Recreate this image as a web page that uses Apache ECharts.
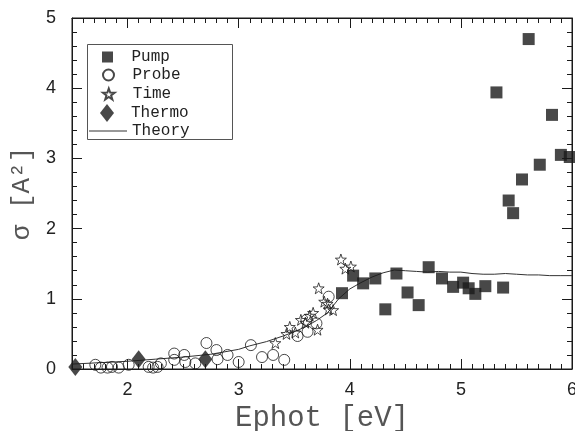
<!DOCTYPE html>
<html>
<head>
<meta charset="utf-8">
<script src="https://cdn.jsdelivr.net/npm/echarts@6/dist/echarts.min.js"></script>
<style>
  html, body { margin: 0; padding: 0; background: #fff; }
  #chart { width: 575px; height: 431px; }
</style>
</head>
<body>
<div id="chart"></div>
<script>
// data: [Ephot eV, sigma A^2]
const pump = [
  [3.93, 1.08], [4.03, 1.33], [4.12, 1.22], [4.23, 1.29], [4.32, 0.85],
  [4.42, 1.36], [4.52, 1.09], [4.62, 0.91], [4.71, 1.45], [4.83, 1.29],
  [4.93, 1.17], [5.02, 1.23], [5.07, 1.15], [5.13, 1.07], [5.22, 1.18],
  [5.32, 3.94], [5.38, 1.16], [5.43, 2.40], [5.47, 2.22], [5.55, 2.70],
  [5.61, 4.70], [5.71, 2.91], [5.82, 3.62], [5.90, 3.05], [5.98, 3.02]
];
const probe = [
  [1.71, 0.06], [1.76, 0.02], [1.82, 0.02], [1.86, 0.03], [1.92, 0.02],
  [2.01, 0.06], [2.19, 0.03], [2.23, 0.02], [2.27, 0.03], [2.30, 0.08],
  [2.42, 0.22], [2.42, 0.13], [2.51, 0.20], [2.52, 0.10], [2.61, 0.08],
  [2.71, 0.37], [2.80, 0.27], [2.81, 0.14], [2.90, 0.20], [3.00, 0.10],
  [3.11, 0.34], [3.21, 0.17], [3.31, 0.20], [3.41, 0.13], [3.53, 0.47],
  [3.62, 0.53], [3.61, 0.70], [3.70, 0.65], [3.81, 1.03]
];
const timeRes = [
  [3.33, 0.37], [3.43, 0.50], [3.46, 0.60], [3.51, 0.52], [3.56, 0.70],
  [3.60, 0.66], [3.64, 0.76], [3.67, 0.80], [3.71, 0.56], [3.72, 1.15],
  [3.77, 0.96], [3.80, 0.93], [3.81, 0.85], [3.85, 0.84], [3.92, 1.56],
  [3.96, 1.43], [4.01, 1.46]
];
const thermo = [[1.53, 0.03], [2.10, 0.14], [2.70, 0.14]];
const theory = [
  [1.5, 0.07], [1.75, 0.09], [2.0, 0.11], [2.25, 0.14], [2.5, 0.17],
  [2.75, 0.21], [3.0, 0.28], [3.1, 0.33], [3.25, 0.39], [3.4, 0.47],
  [3.5, 0.53], [3.6, 0.60], [3.7, 0.69], [3.8, 0.80], [3.9, 1.00],
  [4.0, 1.14], [4.1, 1.23], [4.2, 1.31], [4.3, 1.37], [4.4, 1.41],
  [4.5, 1.40], [4.6, 1.39], [4.7, 1.38], [4.8, 1.39], [4.9, 1.38],
  [5.0, 1.38], [5.1, 1.36], [5.2, 1.35], [5.3, 1.35], [5.4, 1.36],
  [5.5, 1.35], [5.6, 1.34], [5.7, 1.34], [5.8, 1.33], [5.9, 1.33], [6.0, 1.33]
];
const xMajor = [2, 3, 4, 5, 6];
const legendNames = ['Pump', 'Probe', 'Time', 'Thermo', 'Theory'];

const starPath = 'path://M0,-10L2.35,-3.24L9.51,-3.09L3.8,1.24L5.88,8.09L0,4L-5.88,8.09L-3.8,1.24L-9.51,-3.09L-2.35,-3.24Z';
const squarePath = 'path://M0,0L10,0L10,10L0,10Z';
const diamondPath = 'path://M7,0L14,9L7,18L0,9Z';
const barPath = 'path://M0,0L36,0L36,1L0,1Z';
const ink = '#1a1a1a';
const mono = 'Liberation Mono';

const chart = echarts.init(document.getElementById('chart'));

// x needs minor ticks every 0.1 from 1.5 and majors on the integers: two axes per side
function xAxisPair(position, withLabels) {
    const minor = {
        type: 'value', position: position, min: 1.5, max: 6, interval: 0.1,
        axisLine: { show: true, onZero: false, lineStyle: { color: ink, width: 1 } },
        axisTick: { show: true, inside: true, length: 5, lineStyle: { color: ink } },
        axisLabel: { show: false },
        splitLine: { show: false }
    };
    const major = {
        type: 'value', position: position, min: 1.5, max: 6, interval: 0.5,
        axisLine: { show: false, onZero: false },
        axisTick: { show: true, inside: true, length: 10, customValues: xMajor, lineStyle: { color: ink } },
        axisLabel: withLabels ? {
            show: true, customValues: xMajor, margin: 12,
            fontFamily: 'Liberation Sans', fontSize: 18, color: '#222'
        } : { show: false },
        splitLine: { show: false }
    };
    if (withLabels) {
        major.name = 'Ephot [eV]';
        major.nameLocation = 'middle';
        major.nameGap = 30;
        major.nameTextStyle = { fontFamily: mono, fontSize: 29, color: '#555' };
    }
    return [minor, major];
}

function yAxisOne(position, withLabels) {
    const ax = {
        type: 'value', position: position, min: 0, max: 5, interval: 1,
        axisLine: { show: true, onZero: false, lineStyle: { color: ink, width: 1 } },
        axisTick: { show: true, inside: true, length: 10, lineStyle: { color: ink } },
        minorTick: { show: true, splitNumber: 5, length: 5, lineStyle: { color: ink } },
        axisLabel: withLabels ? {
            show: true, margin: 16,
            fontFamily: 'Liberation Sans', fontSize: 18, color: '#222'
        } : { show: false },
        splitLine: { show: false }
    };
    if (withLabels) {
        ax.name = 'σ [A²]';
        ax.nameLocation = 'middle';
        ax.nameGap = 34;
        ax.nameRotate = 90;
        ax.nameTextStyle = { fontFamily: mono, fontSize: 26, color: '#555' };
    }
    return ax;
}

// one legend per row so each icon can have its own size
const legendRows = [
    { icon: squarePath, h: 11, cy: 57, left: 102 },
    { icon: 'circle', h: 11, cy: 75, left: 102 },
    { icon: starPath, h: 11, cy: 94, left: 102 },
    { icon: diamondPath, h: 18, cy: 113, left: 100 },
    { icon: barPath, h: 12, cy: 131, left: 89 }
];
const legends = legendRows.map(function (row, i) {
    const boxH = Math.max(row.h, 16);
    return {
        orient: 'vertical',
        left: row.left,
        top: row.cy - boxH / 2,
        padding: 0,
        itemWidth: 38,
        itemHeight: row.h,
        selectedMode: false,
        textStyle: { fontFamily: mono, fontSize: 16, color: '#222' },
        data: [{ name: legendNames[i], icon: row.icon }]
    };
});

const option = {
    backgroundColor: '#fff',
    animation: false,
    // the test charts that drew their axis lines all had a title component
    title: { text: '', left: 'center', top: 0 },
    grid: {
        left: 72, right: 3, top: 18, bottom: 62, outerBoundsMode: 'none',
        // grid border as a fallback frame
        show: true, borderColor: ink, borderWidth: 1, backgroundColor: 'transparent'
    },
    xAxis: [].concat(xAxisPair('bottom', true), xAxisPair('top', false)),
    yAxis: [yAxisOne('left', true), yAxisOne('right', false)],
    legend: legends,
    graphic: [{
        type: 'rect',
        left: 85,
        top: 42,
        shape: { width: 145, height: 95 },
        style: { fill: 'none', stroke: '#555', lineWidth: 1 },
        z: 0
    }],
    series: [{
        name: 'Theory',
        type: 'line',
        data: theory,
        symbol: 'none',
        lineStyle: { color: '#333', width: 1 },
        itemStyle: { color: '#333' },
        z: 1
    }, {
        name: 'Probe',
        type: 'scatter',
        data: probe,
        symbol: 'circle',
        symbolSize: 11,
        itemStyle: { color: 'rgba(255,255,255,0)', borderColor: ink, borderWidth: 1 }
    }, {
        name: 'Time',
        type: 'scatter',
        data: timeRes,
        symbol: starPath,
        symbolSize: 11,
        itemStyle: { color: 'rgba(255,255,255,0)', borderColor: ink, borderWidth: 1 }
    }, {
        name: 'Pump',
        type: 'scatter',
        data: pump,
        symbol: 'rect',
        symbolSize: 12,
        itemStyle: { color: ink }
    }, {
        name: 'Thermo',
        type: 'scatter',
        data: thermo,
        symbol: 'diamond',
        symbolSize: [14, 18],
        itemStyle: { color: ink }
    }]
};

chart.setOption(option);
</script>
</body>
</html>
